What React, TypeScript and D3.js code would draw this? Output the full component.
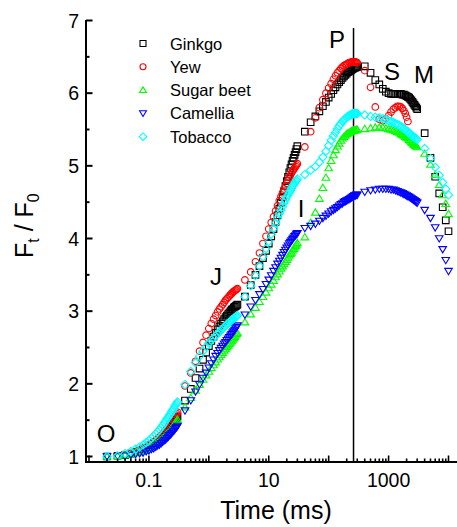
import React from 'react';
import * as d3 from 'd3';

// Sample times (ms)
const times = [
  0.02,0.03,0.04,0.05,0.06,0.07,0.08,0.09,0.1,0.11,0.12,0.13,0.14,0.15,0.16,0.17,0.18,0.19,0.2,0.21,0.22,0.23,0.24,0.25,0.26,0.27,0.28,0.29,0.3,
  0.4,0.5,0.6,0.7,0.8,0.9,1,1.1,1.2,1.3,1.4,1.5,1.6,1.7,1.8,1.9,2,2.1,2.2,2.3,2.4,2.5,2.6,2.7,2.8,2.9,3,
  4,5,6,7,8,9,10,11,12,13,14,15,16,17,18,19,20,21,22,23,24,25,26,27,28,29,30,
  40,50,60,70,80,90,100,110,120,130,140,150,160,170,180,190,200,210,220,230,240,250,260,270,280,290,300,
  400,500,600,700,800,900,1000,1100,1200,1300,1400,1500,1600,1700,1800,1900,2000,2100,2200,2300,2400,2500,2600,2700,2800,2900,3000,
  4000,5000,6000,7000,8000,9000,10000,
];

const ginkgo = [
  1.00,1.01,1.02,1.04,1.06,1.08,1.10,1.12,1.14,1.16,1.18,1.20,1.22,1.24,1.26,1.28,1.30,1.33,1.35,1.37,1.39,1.41,1.43,1.45,1.47,1.49,1.51,1.53,1.55,
  1.77,1.93,2.08,2.21,2.33,2.43,2.52,2.59,2.65,2.70,2.75,2.79,2.83,2.86,2.89,2.92,2.94,2.96,2.98,3.00,3.02,3.03,3.05,3.06,3.07,3.08,3.09,
  3.20,3.36,3.50,3.62,3.73,3.83,3.93,4.03,4.13,4.23,4.32,4.41,4.49,4.57,4.65,4.72,4.79,4.85,4.91,4.97,5.02,5.07,5.11,5.15,5.19,5.23,5.27,
  5.47,5.60,5.68,5.75,5.82,5.88,5.94,5.99,6.04,6.08,6.12,6.15,6.18,6.21,6.23,6.25,6.27,6.29,6.30,6.31,6.32,6.33,6.34,6.35,6.35,6.36,6.36,
  6.37,6.28,6.18,6.12,6.06,6.02,6.00,5.99,5.99,5.99,5.99,5.99,5.99,5.98,5.98,5.97,5.96,5.95,5.94,5.92,5.90,5.88,5.86,5.84,5.82,5.80,5.78,
  5.45,5.11,4.85,4.62,4.43,4.25,4.10,
];

const yew = [
  1.00,1.01,1.02,1.04,1.06,1.08,1.10,1.13,1.15,1.17,1.19,1.22,1.24,1.26,1.29,1.31,1.33,1.36,1.38,1.40,1.43,1.45,1.47,1.50,1.52,1.54,1.57,1.59,1.61,
  1.97,2.15,2.31,2.45,2.57,2.67,2.76,2.83,2.89,2.94,2.99,3.03,3.06,3.09,3.12,3.15,3.17,3.19,3.21,3.23,3.24,3.26,3.27,3.28,3.29,3.30,3.31,
  3.43,3.54,3.68,3.80,3.93,4.03,4.13,4.22,4.30,4.38,4.45,4.52,4.58,4.63,4.68,4.72,4.76,4.80,4.84,4.87,4.90,4.93,4.95,4.97,4.99,5.01,5.03,
  5.26,5.47,5.66,5.80,5.91,6.00,6.07,6.13,6.19,6.24,6.28,6.31,6.34,6.36,6.38,6.39,6.40,6.41,6.42,6.42,6.43,6.43,6.43,6.43,6.43,6.42,6.42,
  6.31,6.08,5.81,5.64,5.62,5.65,5.69,5.74,5.78,5.80,5.82,5.82,5.81,5.79,5.76,5.72,5.67,5.61,
];

const sugarBeet = [
  1.00,1.01,1.02,1.03,1.05,1.06,1.08,1.10,1.11,1.13,1.15,1.17,1.19,1.21,1.23,1.25,1.27,1.29,1.31,1.33,1.35,1.37,1.39,1.41,1.43,1.45,1.47,1.49,1.51,
  1.68,1.81,1.91,1.99,2.06,2.12,2.17,2.22,2.26,2.30,2.34,2.37,2.40,2.43,2.46,2.48,2.51,2.53,2.55,2.57,2.59,2.61,2.63,2.65,2.67,2.69,2.70,
  2.85,2.96,3.05,3.13,3.20,3.26,3.32,3.37,3.42,3.47,3.51,3.55,3.59,3.62,3.65,3.68,3.71,3.74,3.77,3.79,3.81,3.84,3.86,3.88,3.90,3.92,3.94,
  4.02,4.22,4.36,4.55,4.70,4.84,4.97,5.07,5.15,5.22,5.27,5.31,5.35,5.38,5.40,5.42,5.44,5.45,5.46,5.47,5.48,5.48,5.49,5.49,5.49,5.50,5.50,
  5.51,5.52,5.53,5.53,5.53,5.52,5.51,5.50,5.49,5.48,5.47,5.46,5.44,5.43,5.42,5.40,5.39,5.38,5.36,5.35,5.33,5.32,5.30,5.29,5.28,5.27,5.26,
  5.17,5.02,4.88,4.74,4.60,4.48,4.34,
];

const camellia = [
  1.00,1.00,1.01,1.02,1.03,1.04,1.05,1.07,1.08,1.10,1.11,1.13,1.15,1.16,1.18,1.20,1.22,1.23,1.25,1.27,1.29,1.30,1.32,1.34,1.35,1.37,1.39,1.40,1.42,
  1.63,1.77,1.89,1.99,2.08,2.15,2.22,2.28,2.33,2.38,2.42,2.46,2.49,2.52,2.55,2.57,2.60,2.62,2.64,2.66,2.68,2.70,2.72,2.74,2.76,2.78,2.80,
  2.95,3.06,3.15,3.23,3.30,3.37,3.43,3.49,3.55,3.60,3.65,3.69,3.73,3.77,3.81,3.84,3.87,3.90,3.93,3.95,3.97,3.99,4.01,4.03,4.04,4.06,4.07,
  4.14,4.17,4.20,4.24,4.28,4.31,4.34,4.37,4.39,4.41,4.43,4.45,4.47,4.48,4.50,4.51,4.52,4.53,4.54,4.55,4.56,4.57,4.58,4.59,4.59,4.60,4.60,
  4.64,4.66,4.67,4.68,4.68,4.68,4.68,4.67,4.67,4.66,4.65,4.64,4.63,4.62,4.61,4.60,4.59,4.58,4.57,4.56,4.55,4.54,4.53,4.52,4.51,4.50,4.49,
  4.39,4.28,4.15,4.00,3.85,3.70,3.55,
];

const tobacco = [
  1.00,1.01,1.04,1.07,1.10,1.13,1.16,1.19,1.22,1.25,1.28,1.31,1.34,1.37,1.40,1.43,1.46,1.49,1.52,1.54,1.57,1.59,1.62,1.64,1.66,1.69,1.71,1.73,1.75,
  1.99,2.17,2.29,2.38,2.45,2.51,2.56,2.60,2.63,2.66,2.69,2.71,2.74,2.76,2.78,2.80,2.82,2.83,2.85,2.86,2.88,2.89,2.90,2.91,2.92,2.93,2.94,
  3.20,3.35,3.49,3.62,3.75,3.86,3.96,4.06,4.14,4.21,4.28,4.34,4.39,4.44,4.49,4.53,4.57,4.60,4.63,4.66,4.69,4.72,4.74,4.76,4.78,4.80,4.82,
  4.88,4.94,4.99,5.05,5.12,5.20,5.28,5.35,5.41,5.46,5.51,5.55,5.58,5.61,5.63,5.65,5.67,5.68,5.69,5.70,5.71,5.71,5.72,5.72,5.72,5.72,5.72,
  5.70,5.68,5.67,5.66,5.65,5.64,5.62,5.61,5.60,5.58,5.57,5.56,5.54,5.53,5.51,5.50,5.48,5.47,5.45,5.44,5.42,5.41,5.40,5.39,5.38,5.37,5.36,
  5.24,5.10,4.98,4.87,4.77,4.68,4.60,
];

const seriesNames = ['Ginkgo', 'Yew', 'Sugar beet', 'Camellia', 'Tobacco'];
const seriesColors = ['#000000', '#ff0000', '#00ff00', '#0000ff', '#00ffff'];
const seriesShapes = ['square', 'circle', 'triangleUp', 'triangleDown', 'diamond'];
const seriesValues = [ginkgo, yew, sugarBeet, camellia, tobacco];

const yTickValues = [1, 2, 3, 4, 5, 6, 7];
const xTickLabels = ['0.1', '10', '1000'];
const phaseLabels = ['O', 'J', 'I', 'P', 'S', 'M'];
const peakTime = 260;

function shapePath(shape: string, r: number): string {
  switch (shape) {
    case 'square':
      return `M${-r},${-r}H${r}V${r}H${-r}Z`;
    case 'circle':
      return `M${r},0A${r},${r} 0 1,1 ${-r},0A${r},${r} 0 1,1 ${r},0Z`;
    case 'triangleUp': {
      const w = r * 1.15;
      return `M0,${-r * 1.05}L${w},${r * 0.85}L${-w},${r * 0.85}Z`;
    }
    case 'triangleDown': {
      const w = r * 1.15;
      return `M0,${r * 1.05}L${w},${-r * 0.85}L${-w},${-r * 0.85}Z`;
    }
    case 'diamond': {
      const d = r * 1.25;
      return `M0,${-d}L${d},0L0,${d}L${-d},0Z`;
    }
  }
  return '';
}

export default function App() {
  const W = 457, H = 527;
  const x = d3.scaleLog().domain([0.01, 10000]).range([89, 448.5]);
  const y = d3.scaleLinear().domain([1, 7]).range([456.5, 20.5]);
  const axisLeft = 86, axisBottom = 462, axisTop = 20, axisRight = 458;
  const font = 'Arial, "Liberation Sans", Helvetica, sans-serif';

  const xMajor: number[] = [];
  const xMinor: number[] = [];
  for (let e = -2; e <= 4; e++) {
    xMajor.push(Math.pow(10, e));
    if (e < 4) for (let m = 2; m <= 9; m++) xMinor.push(m * Math.pow(10, e));
  }
  const yMinor = yTickValues.slice(0, -1).map((v) => v + 0.5);
  const labelTimes = xTickLabels.map((s) => +s);

  const phasePos: Record<string, [number, number]> = {
    O: [106, 442], J: [216, 285], I: [301, 217], P: [337, 48], S: [392, 80], M: [424, 83],
  };

  const legendY = [43.5, 66.8, 90, 113.3, 136.7];

  return (
    <svg width={W} height={H} style={{ position: 'absolute', left: 0, top: 0, background: '#fff' }} fontFamily={font}>
      <rect x={0} y={0} width={W} height={H} fill="#fff" />
      {/* vertical P line */}
      <line x1={x(peakTime)} x2={x(peakTime)} y1={28} y2={axisBottom} stroke="#000" strokeWidth={1.5} />

      {/* data */}
      {seriesValues.map((vals, si) => (
        <g key={si} fill="none" stroke={seriesColors[si]} strokeWidth={1.1}>
          {vals.map((v, i) => (
            <path key={i} d={shapePath(seriesShapes[si], 3.3)} transform={`translate(${x(times[i])},${y(v)})`} />
          ))}
        </g>
      ))}

      {/* axes */}
      <line x1={axisLeft} x2={axisLeft} y1={axisTop} y2={axisBottom + 1} stroke="#000" strokeWidth={2} />
      <line x1={axisLeft - 1} x2={axisRight} y1={axisBottom} y2={axisBottom} stroke="#000" strokeWidth={2} />
      {yTickValues.map((v) => (
        <g key={v}>
          <line x1={axisLeft} x2={axisLeft + 6.5} y1={y(v)} y2={y(v)} stroke="#000" strokeWidth={2} />
          <text x={79} y={y(v)} dy="0.36em" textAnchor="end" fontSize={19.5}>{v}</text>
        </g>
      ))}
      {yMinor.map((v) => (
        <line key={v} x1={axisLeft} x2={axisLeft + 3.5} y1={y(v)} y2={y(v)} stroke="#000" strokeWidth={2} />
      ))}
      {xMajor.map((t) => (
        <line key={t} x1={x(t)} x2={x(t)} y1={axisBottom} y2={axisBottom - 6.5} stroke="#000" strokeWidth={1.6} />
      ))}
      {xMinor.map((t) => (
        <line key={t} x1={x(t)} x2={x(t)} y1={axisBottom} y2={axisBottom - 3.5} stroke="#000" strokeWidth={1.6} />
      ))}
      {labelTimes.map((t, i) => (
        <text key={t} x={x(t)} y={487} textAnchor="middle" fontSize={19.5}>{xTickLabels[i]}</text>
      ))}

      {/* axis titles */}
      <text x={276} y={519} textAnchor="middle" fontSize={25}>Time (ms)</text>
      <text transform="translate(33,258) rotate(-90)" fontSize={25} style={{ whiteSpace: 'pre' }}>
        <tspan>F</tspan>
        <tspan fontSize={16} dy={6}>t</tspan>
        <tspan dy={-6}> / F</tspan>
        <tspan fontSize={16} dy={6}>0</tspan>
      </text>

      {/* phase labels */}
      {phaseLabels.map((p) => (
        <text key={p} x={phasePos[p][0]} y={phasePos[p][1]} textAnchor="middle" fontSize={24}>{p}</text>
      ))}

      {/* legend */}
      {seriesNames.map((n, i) => (
        <g key={n}>
          <path d={shapePath(seriesShapes[i], 3)} transform={`translate(143,${legendY[i]})`} fill="none" stroke={seriesColors[i]} strokeWidth={1.1} />
          <text x={170} y={legendY[i] + 6} fontSize={16.5}>{n}</text>
        </g>
      ))}
    </svg>
  );
}
